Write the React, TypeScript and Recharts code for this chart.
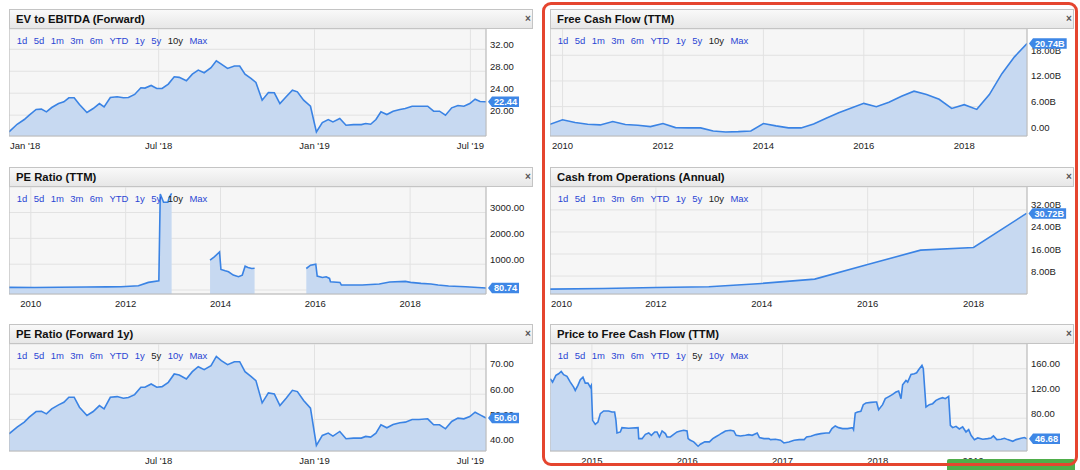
import React from 'react';
import { AreaChart, Area, XAxis, YAxis, CartesianGrid, ReferenceDot, ReferenceLine } from 'recharts';

const FONT = '"Liberation Sans", Arial, Helvetica, sans-serif';
const LINE = '#3a83e4';
const FILL = '#c7d9f1';
const TAG = '#3e87e6';
const BTN = '#2b46d4';
const RANGES = ['1d', '5d', '1m', '3m', '6m', 'YTD', '1y', '5y', '10y', 'Max'];

// ---- EV to EBITDA (Forward) & PE Ratio (Forward 1y): shared weekly dates ----
const ratioDates = [
  2018.02, 2018.046, 2018.069, 2018.085, 2018.107, 2018.124, 2018.14, 2018.157, 2018.179, 2018.196,
  2018.212, 2018.229, 2018.246, 2018.27, 2018.29, 2018.31, 2018.325, 2018.345, 2018.367, 2018.387,
  2018.403, 2018.423, 2018.443, 2018.456, 2018.476, 2018.494, 2018.511, 2018.531, 2018.55, 2018.566,
  2018.589, 2018.608, 2018.627, 2018.646, 2018.668, 2018.685, 2018.701, 2018.721, 2018.743, 2018.76,
  2018.777, 2018.796, 2018.812, 2018.832, 2018.852, 2018.871, 2018.889, 2018.909, 2018.929, 2018.945,
  2018.965, 2018.987, 2019.006, 2019.025, 2019.044, 2019.059, 2019.081, 2019.101, 2019.125, 2019.15,
  2019.164, 2019.18, 2019.197, 2019.213, 2019.232, 2019.252, 2019.274, 2019.291, 2019.313, 2019.335,
  2019.363, 2019.382, 2019.401, 2019.42, 2019.44, 2019.46, 2019.479, 2019.498, 2019.515, 2019.531,
  2019.55,
];
const evValues = [
  16.94, 18.34, 19.2, 19.99, 21.03, 21.09, 20.6, 21.39, 22.12, 22.43,
  23.16, 23.16, 21.94, 20.48, 21.21, 22.12, 21.51, 23.22, 23.34, 23.16,
  23.22, 23.77, 24.99, 24.93, 25.41, 24.87, 24.87, 25.66, 27.0, 26.88,
  26.27, 27.48, 28.22, 27.73, 28.64, 29.92, 29.31, 28.52, 28.95, 28.95,
  27.48, 26.69, 25.96, 22.73, 24.13, 24.07, 22.12, 23.34, 24.56, 24.25,
  22.73, 21.63, 16.94, 18.65, 19.2, 18.77, 19.38, 18.16, 18.28, 18.28,
  18.47, 18.34, 19.2, 20.6, 20.11, 20.72, 21.03, 21.21, 21.63, 21.63,
  21.63, 20.72, 20.72, 19.99, 21.33, 21.76, 21.63, 22.12, 22.91, 22.49,
  22.44,
];
const peFwdValues = [
  44.33, 46.96, 48.93, 50.9, 53.14, 53.27, 52.22, 54.2, 55.78, 56.83,
  58.8, 58.8, 54.85, 51.56, 53.14, 55.51, 54.2, 58.8, 59.06, 58.41,
  58.67, 59.85, 62.75, 62.75, 64.07, 62.75, 63.01, 64.72, 68.01, 67.62,
  66.04, 68.93, 70.91, 69.72, 71.3, 74.99, 73.28, 71.7, 72.88, 72.88,
  68.93, 67.09, 65.38, 56.57, 60.51, 60.12, 55.51, 58.41, 61.56, 61.04,
  57.49, 54.46, 39.72, 43.67, 44.59, 43.4, 45.25, 42.35, 42.61, 42.61,
  43.27, 43.01, 44.59, 47.88, 46.7, 48.01, 48.67, 48.93, 49.98, 49.98,
  50.25, 47.88, 47.88, 46.3, 49.19, 50.51, 50.25, 51.17, 52.88, 51.83,
  50.6,
];
const ratioTicks = [2018.02, 2018.5, 2019.0, 2019.5];
const ratioTickLabels = ["Jan '18", "Jul '18", "Jan '19", "Jul '19"];
const peFwdTicks = [2018.5, 2019.0, 2019.5];
const peFwdTickLabels = ["Jul '18", "Jan '19", "Jul '19"];
const evYTicks = [20, 24, 28, 32];
const evYLabels = ['20.00', '24.00', '28.00', '32.00'];
const peFwdYTicks = [40, 50, 60, 70];
const peFwdYLabels = ['40.00', '50.00', '60.00', '70.00'];

// ---- PE Ratio (TTM) (null = no value) ----
const peTtmDates = [
  2009.54, 2010.08, 2010.6, 2011.17, 2011.6, 2011.9, 2012.27, 2012.48, 2012.7, 2012.73, 2012.8, 2012.89, 2012.92, 2012.97,
  2013.4,
  2013.78, 2013.87, 2013.98, 2014.01, 2014.1, 2014.17, 2014.27, 2014.38, 2014.46, 2014.52, 2014.58, 2014.66, 2014.72,
  2015.3,
  2015.81, 2015.9, 2016.01, 2016.04, 2016.15, 2016.23, 2016.3, 2016.32, 2016.52, 2016.55, 2016.99, 2017.35, 2017.57,
  2017.9, 2018.01, 2018.23, 2018.44, 2018.59, 2018.81, 2019.17, 2019.6,
];
const peTtmValues = [
  104, 100, 108, 115, 120, 127, 165, 296, 358, 3720, 3396, 3396, 3588, 3742,
  null,
  1154, 1282, 1474, 796, 742, 705, 577, 513, 577, 923, 872, 833, 840,
  null,
  833, 962, 1000, 538, 487, 513, 449, 321, 295, 192, 192, 231, 308,
  333, 295, 256, 231, 192, 154, 128, 80.74,
];
const yearTicks10 = [2010, 2012, 2014, 2016, 2018];
const yearLabels10 = ['2010', '2012', '2014', '2016', '2018'];
const peTtmYTicks = [0, 1000, 2000, 3000];
const peTtmYLabels = ['', '1000.00', '2000.00', '3000.00'];

// ---- Free Cash Flow (TTM), billions ----
const fcfDates = [
  2009.75, 2010.0, 2010.25, 2010.5, 2010.75, 2011.0, 2011.25, 2011.5, 2011.75, 2012.0,
  2012.25, 2012.5, 2012.75, 2013.0, 2013.25, 2013.5, 2013.75, 2014.0, 2014.25, 2014.5,
  2014.75, 2015.0, 2015.25, 2015.5, 2015.75, 2016.0, 2016.25, 2016.5, 2016.75, 2017.0,
  2017.25, 2017.5, 2017.75, 2018.0, 2018.25, 2018.5, 2018.75, 2019.0, 2019.25,
];
const fcfValues = [
  1.88, 2.91, 2.28, 1.88, 1.72, 2.51, 1.8, 1.65, 1.33, 2.04,
  1.09, 1.02, 1.02, 0.31, 0.07, 0.15, 0.31, 2.04, 1.49, 1.02,
  1.02, 1.96, 3.3, 4.56, 5.66, 6.76, 5.98, 7.0, 8.42, 9.6,
  8.81, 7.71, 5.58, 6.45, 5.35, 8.81, 13.69, 17.63, 20.74,
];
const fcfYTicks = [0, 6, 12, 18];
const fcfYLabels = ['0.00', '6.00B', '12.00B', '18.00B'];

// ---- Cash from Operations (Annual), billions ----
const cfoYears = [2010, 2011, 2012, 2013, 2014, 2015, 2016, 2017, 2018, 2019];
const cfoValues = [3.28, 3.52, 3.88, 4.12, 5.33, 6.9, 12.2, 17.4, 18.37, 30.72];
const cfoYTicks = [8, 16, 24, 32];
const cfoYLabels = ['8.00B', '16.00B', '24.00B', '32.00B'];

// ---- Price to Free Cash Flow (TTM) ----
const pfcfDates = [
  2014.563, 2014.587, 2014.622, 2014.65, 2014.678, 2014.703, 2014.738, 2014.773, 2014.808, 2014.825,
  2014.853, 2014.878, 2014.906, 2014.93, 2014.958, 2014.983, 2014.993, 2015.007, 2015.035, 2015.063,
  2015.088, 2015.123, 2015.175, 2015.21, 2015.238, 2015.252, 2015.263, 2015.298, 2015.315, 2015.385,
  2015.484, 2015.491, 2015.526, 2015.561, 2015.596, 2015.624, 2015.659, 2015.683, 2015.708, 2015.736,
  2015.771, 2015.788, 2015.823, 2015.858, 2015.893, 2015.928, 2015.963, 2015.998, 2016.009, 2016.033,
  2016.068, 2016.114, 2016.138, 2016.184, 2016.233, 2016.268, 2016.296, 2016.338, 2016.366, 2016.401,
  2016.453, 2016.488, 2016.513, 2016.558, 2016.611, 2016.646, 2016.681, 2016.734, 2016.758, 2016.804,
  2016.856, 2016.874, 2016.926, 2016.979, 2017.014, 2017.066, 2017.122, 2017.175, 2017.227, 2017.252,
  2017.297, 2017.35, 2017.402, 2017.455, 2017.49, 2017.518, 2017.553, 2017.588, 2017.63, 2017.682,
  2017.735, 2017.745, 2017.763, 2017.787, 2017.822, 2017.847, 2017.875, 2017.928, 2017.973, 2017.987,
  2018.008, 2018.05, 2018.078, 2018.12, 2018.155, 2018.19, 2018.218, 2018.243, 2018.26, 2018.295,
  2018.313, 2018.348, 2018.383, 2018.407, 2018.428, 2018.463, 2018.477, 2018.505, 2018.54, 2018.575,
  2018.61, 2018.645, 2018.68, 2018.708, 2018.743, 2018.761, 2018.785, 2018.82, 2018.855, 2018.89,
  2018.925, 2018.953, 2018.978, 2019.013, 2019.048, 2019.101, 2019.153, 2019.188, 2019.213, 2019.248,
  2019.293, 2019.328, 2019.363, 2019.416, 2019.451, 2019.503, 2019.538, 2019.565,
];
const pfcfValues = [
  143.8, 138.4, 149.2, 151.9, 155.6, 150.3, 147.6, 138.4, 130.4, 125.0,
  133.1, 142.2, 146.5, 136.8, 136.8, 130.4, 133.1, 76.6, 70.2, 73.9,
  87.4, 91.7, 91.7, 90.0, 90.0, 76.6, 56.2, 57.8, 64.8, 63.7,
  64.8, 47.0, 47.0, 54.0, 56.2, 52.4, 57.8, 57.8, 49.7, 59.4,
  55.1, 49.7, 49.7, 54.0, 57.8, 59.4, 60.5, 59.4, 47.0, 44.4,
  41.7, 34.7, 37.9, 41.7, 41.7, 47.0, 49.7, 53.5, 56.2, 59.4,
  60.5, 59.4, 52.4, 51.3, 52.4, 53.5, 52.4, 56.2, 48.7, 47.0,
  47.0, 45.4, 46.0, 44.4, 40.0, 41.7, 44.4, 45.4, 45.4, 49.7,
  50.8, 53.5, 55.1, 56.2, 56.2, 63.2, 67.5, 64.8, 63.2, 63.2,
  64.8, 61.6, 88.4, 90.0, 91.1, 101.9, 104.6, 105.6, 106.2, 106.2,
  93.8, 101.9, 111.6, 115.3, 118.5, 122.3, 123.9, 111.6, 134.1, 141.1,
  138.4, 150.8, 151.9, 153.5, 158.3, 165.3, 160.0, 98.1, 101.9, 103.5,
  108.9, 111.6, 113.2, 111.6, 115.3, 68.5, 64.8, 66.9, 62.6, 65.9,
  57.8, 61.6, 52.4, 45.4, 48.1, 46.0, 47.0, 48.1, 51.3, 45.4,
  46.0, 47.6, 45.4, 42.7, 45.4, 47.6, 48.7, 46.68,
];
const pfcfTicks = [2015, 2016, 2017, 2018, 2019];
const pfcfTickLabels = ['2015', '2016', '2017', '2018', '2019'];
const pfcfYTicks = [40, 80, 120, 160];
const pfcfYLabels = ['', '80.00', '120.00', '160.00'];

const zip = (ts: number[], vs: (number | null)[]) => ts.map((t, i) => ({ t, v: vs[i] }));

function textWidth(s: string, size: number) {
  let w = 0;
  for (const c of s) {
    if (c === '.') w += 0.278;
    else if (c === 'B') w += 0.722;
    else w += 0.556;
  }
  return w * size;
}

const Tag = (props: any) => {
  const { cx, cy, text } = props;
  if (cx == null || cy == null) return null;
  const fs = 9.2;
  const tw = textWidth(text, fs);
  const x0 = cx + 2;
  const h = 10.5;
  const ax = 4;
  const bw = tw + 4;
  return (
    <g>
      <path
        d={`M${x0},${cy} L${x0 + ax},${cy - h / 2} L${x0 + ax + bw},${cy - h / 2} L${x0 + ax + bw},${cy + h / 2} L${x0 + ax},${cy + h / 2} Z`}
        fill={TAG}
      />
      <text x={x0 + ax + bw / 2} y={cy + 3.3} textAnchor="middle" fill="#fff" fontSize={fs} fontWeight="bold" fontFamily={FONT}>
        {text}
      </text>
    </g>
  );
};

type PanelProps = {
  left: number;
  top: number;
  title: string;
  selected: string;
  data: { t: number; v: number | null }[];
  xDomain: [number, number];
  xTicks: number[];
  xLabels: string[];
  yDomain: [number, number];
  yTicks: number[];
  yLabels: string[];
  lastLabel: string;
};

const W = 524;
const H = 128;
const MARGIN = { top: 0, right: 0, bottom: 0, left: 0 };

function Panel(p: PanelProps) {
  const last = p.data[p.data.length - 1];
  const lastData = [last];
  const xTick = (props: any) => {
    const { x, y, payload } = props;
    const i = p.xTicks.indexOf(payload.value);
    const label = i >= 0 ? p.xLabels[i] : '';
    const w = label.length * 5.2;
    const startAnchor = x - w / 2 < 1;
    return (
      <text x={startAnchor ? x + 1 : x} y={y + 13} textAnchor={startAnchor ? 'start' : 'middle'} fontSize={9.5} fill="#222" fontFamily={FONT}>
        {label}
      </text>
    );
  };
  const yTick = (props: any) => {
    const { x, y, payload } = props;
    const i = p.yTicks.indexOf(payload.value);
    const label = i >= 0 ? p.yLabels[i] : '';
    return (
      <text x={x + 4} y={y - 1.5} textAnchor="start" fontSize={9.5} fill="#222" fontFamily={FONT}>
        {label}
      </text>
    );
  };
  return (
    <div style={{ position: 'absolute', left: p.left, top: p.top, width: W, fontFamily: FONT }}>
      <div
        style={{
          position: 'relative',
          height: 20,
          boxSizing: 'border-box',
          border: '1px solid #c4c4c4',
          background: 'linear-gradient(#f9f9f9, #e7e7e7)',
        }}
      >
        <span style={{ position: 'absolute', left: 6, top: 0, lineHeight: '18px', fontSize: 11.3, fontWeight: 'bold', color: '#111', whiteSpace: 'nowrap' }}>
          {p.title}
        </span>
        <span style={{ position: 'absolute', left: 515, top: 0, lineHeight: '18px', fontSize: 10, fontWeight: 'bold', color: '#555' }}>×</span>
      </div>
      <div style={{ position: 'relative', width: W, height: H }}>
        <AreaChart width={W} height={H} data={p.data} margin={MARGIN}>
          <CartesianGrid fill="#f6f6f6" stroke="#e2e2e2" />
          <XAxis
            dataKey="t"
            type="number"
            domain={p.xDomain}
            ticks={p.xTicks}
            allowDataOverflow
            interval={0}
            height={21}
            tickSize={0}
            tickMargin={0}
            tickLine={false}
            axisLine={{ stroke: '#b9b9b9' }}
            tick={xTick}
          />
          <YAxis
            orientation="right"
            type="number"
            domain={p.yDomain}
            ticks={p.yTicks}
            allowDataOverflow
            interval={0}
            width={47}
            tickSize={0}
            tickMargin={0}
            tickLine={false}
            axisLine={{ stroke: '#b9b9b9' }}
            tick={yTick}
          />
          <ReferenceLine x={p.xDomain[0]} stroke="#b9b9b9" ifOverflow="visible" />
          <Area
            dataKey="v"
            type="linear"
            stroke={LINE}
            strokeWidth={1.6}
            fill={FILL}
            fillOpacity={1}
            baseValue="dataMin"
            connectNulls={false}
            dot={false}
            activeDot={false}
            isAnimationActive={false}
          />
        </AreaChart>
        <div style={{ position: 'absolute', left: 7.7, top: 5, display: 'flex', gap: 6.4, fontSize: 9.5, lineHeight: '13px', whiteSpace: 'nowrap' }}>
          {RANGES.map((r) => (
            <span key={r} style={{ color: r === p.selected ? '#222' : BTN }}>
              {r}
            </span>
          ))}
        </div>
        {/* overlay chart on the same scales, drawing the last-value tag above the axis labels */}
        <div style={{ position: 'absolute', left: 0, top: 0, pointerEvents: 'none' }}>
          <AreaChart width={W} height={H} data={lastData} margin={MARGIN}>
            <XAxis dataKey="t" type="number" domain={p.xDomain} ticks={p.xTicks} allowDataOverflow height={21} tick={false} tickLine={false} axisLine={false} />
            <YAxis orientation="right" type="number" domain={p.yDomain} ticks={p.yTicks} allowDataOverflow width={47} tick={false} tickLine={false} axisLine={false} />
            <Area dataKey="v" stroke="none" fill="none" dot={false} activeDot={false} isAnimationActive={false} />
            <ReferenceDot
              x={last.t}
              y={last.v as number}
              r={3}
              ifOverflow="visible"
              shape={(sp: any) => <Tag {...sp} text={p.lastLabel} />}
            />
          </AreaChart>
        </div>
      </div>
    </div>
  );
}

export default function App() {
  const evData = zip(ratioDates, evValues);
  const peFwdData = zip(ratioDates, peFwdValues);
  const peTtmData = zip(peTtmDates, peTtmValues);
  const fcfData = zip(fcfDates, fcfValues);
  const cfoData = zip(cfoYears, cfoValues);
  const pfcfData = zip(pfcfDates, pfcfValues);
  return (
    <div style={{ position: 'absolute', left: 0, top: 0, width: 1080, height: 470, background: '#fff', overflow: 'hidden', fontFamily: FONT }}>
      <Panel left={9} top={9} title="EV to EBITDA (Forward)" selected="10y" data={evData}
        xDomain={[2018.02, 2019.55]} xTicks={ratioTicks} xLabels={ratioTickLabels}
        yDomain={[16.2, 35.7]} yTicks={evYTicks} yLabels={evYLabels} lastLabel="22.44" />
      <Panel left={9} top={166.5} title="PE Ratio (TTM)" selected="10y" data={peTtmData}
        xDomain={[2009.54, 2019.6]} xTicks={yearTicks10} xLabels={yearLabels10}
        yDomain={[-154, 3988]} yTicks={peTtmYTicks} yLabels={peTtmYLabels} lastLabel="80.74" />
      <Panel left={9} top={324} title="PE Ratio (Forward 1y)" selected="5y" data={peFwdData}
        xDomain={[2018.02, 2019.55]} xTicks={peFwdTicks} xLabels={peFwdTickLabels}
        yDomain={[37.5, 79.9]} yTicks={peFwdYTicks} yLabels={peFwdYLabels} lastLabel="50.60" />
      <Panel left={550} top={9} title="Free Cash Flow (TTM)" selected="10y" data={fcfData}
        xDomain={[2009.75, 2019.25]} xTicks={yearTicks10} xLabels={yearLabels10}
        yDomain={[-0.87, 24.14]} yTicks={fcfYTicks} yLabels={fcfYLabels} lastLabel="20.74B" />
      <Panel left={550} top={166.5} title="Cash from Operations (Annual)" selected="10y" data={cfoData}
        xDomain={[2010, 2019.01]} xTicks={yearTicks10} xLabels={yearLabels10}
        yDomain={[1.5, 40.3]} yTicks={cfoYTicks} yLabels={cfoYLabels} lastLabel="30.72B" />
      <Panel left={550} top={324} title="Price to Free Cash Flow (TTM)" selected="5y" data={pfcfData}
        xDomain={[2014.56, 2019.565]} xTicks={pfcfTicks} xLabels={pfcfTickLabels}
        yDomain={[27, 200]} yTicks={pfcfYTicks} yLabels={pfcfYLabels} lastLabel="46.68" />
      <div style={{ position: 'absolute', left: 947, top: 459, width: 128, height: 11, background: '#4fae4a', borderRadius: '2px 2px 0 0' }} />
      <div style={{ position: 'absolute', left: 542, top: 2, width: 536, height: 464, boxSizing: 'border-box', border: '3px solid #e5452f', borderRadius: 9 }} />
    </div>
  );
}
